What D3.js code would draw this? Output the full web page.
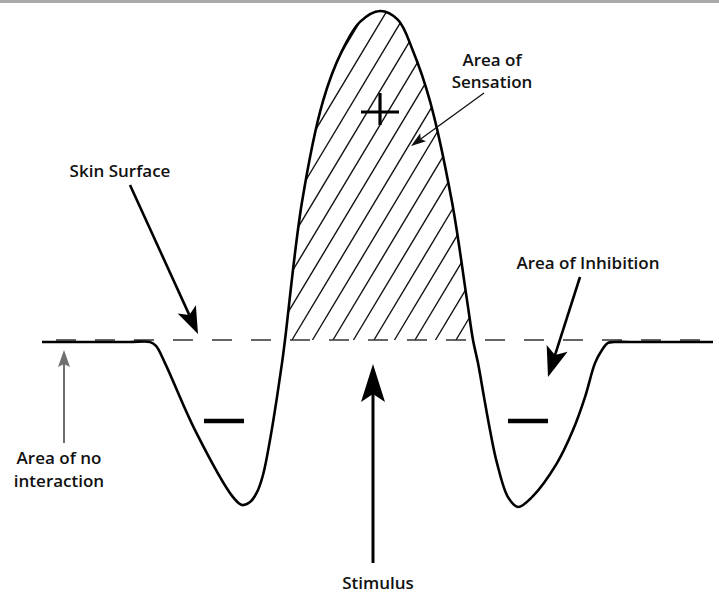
<!DOCTYPE html>
<html lang="en">

<head>
    <meta charset="UTF-8">
    <title>Skin Surface - Sensation and Inhibition</title>
    <script src="https://d3js.org/d3.v7.min.js"></script>
    <style>
        body {
            margin: 0;
            background: #fff;
        }

        .label {
            font-family: "Open Sans", sans-serif;
            font-weight: 600;
            font-size: 17px;
            fill: #111;
        }
    </style>
</head>

<body>
    <svg id="chart"></svg>

    <script>
        const width = 719;
        const height = 595;

        // position along the skin (0 = stimulus) and response (+ sensation, - inhibition)
        const positions = [-336, -288, -248, -228, -222, -213, -183, -145, -136, -128,
            -121, -115, -108, -101, -96, -93,
            -76, -55, -36, -18, 2, 20, 35, 52, 74, 89, 95,
            100, 106, 112, 119, 130, 140, 154, 179, 195, 207, 217, 224, 230, 236,
            252, 292, 335];
        const response = [0, 0, 0, 0, -1.2, -6.4, -26.7, -47, -49.4, -48.5,
            -45.5, -40.3, -29.7, -16.7, -6.4, 0.6,
            42.4, 73, 88.2, 97, 100.3, 97.6, 88.2, 73, 42.4, 12.7, 0.6,
            -6.4, -16.7, -26.7, -36.7, -47, -50, -47, -36.7, -26.7, -16.7, -6.4, -2.4, -0.3, 0,
            0, 0, 0];

        const points = positions.map((p, i) => ({ x: p, y: response[i] }));

        const svg = d3.select('#chart')
            .attr('width', width)
            .attr('height', height);

        const x = d3.scaleLinear().domain([-336, 335]).range([42, 713]);
        const y = d3.scaleLinear().domain([-50, 100]).range([507, 12]);

        // grey rule along the top
        svg.append('rect')
            .attr('x', 0).attr('y', 0)
            .attr('width', width).attr('height', 3)
            .attr('fill', '#a9a9a9');

        const curve = d3.curveCatmullRom.alpha(0.5);

        // clip: inside curve and above skin surface
        const area = d3.area()
            .x(d => x(d.x))
            .y0(y(0))
            .y1(d => y(d.y))
            .curve(curve);

        const defs = svg.append('defs');
        defs.append('clipPath').attr('id', 'aboveSkin')
            .append('rect')
            .attr('x', 0).attr('y', 0)
            .attr('width', width).attr('height', y(0) - 1);
        defs.append('clipPath').attr('id', 'inCurve')
            .append('path')
            .attr('d', area(points));

        // hatching of the area of sensation
        const slope = 0.6;
        const hatchX = d3.range(292 - 20.5 * 12, 480, 20.5);
        svg.append('g')
            .attr('clip-path', 'url(#aboveSkin)')
            .append('g')
            .attr('clip-path', 'url(#inCurve)')
            .selectAll('line')
            .data(hatchX)
            .enter().append('line')
            .attr('x1', d => d)
            .attr('y1', y(0) - 2)
            .attr('x2', d => d + slope * 400)
            .attr('y2', y(0) - 2 - 400)
            .attr('stroke', '#111')
            .attr('stroke-width', 1.4);

        // skin surface (dashed)
        svg.append('line')
            .attr('x1', x(-336)).attr('x2', x(335))
            .attr('y1', y(0) - 2).attr('y2', y(0) - 2)
            .attr('stroke', '#333')
            .attr('stroke-width', 1.3)
            .attr('stroke-dasharray', '20 19')
            .attr('stroke-dashoffset', 25);

        // response curve
        const line = d3.line()
            .x(d => x(d.x))
            .y(d => y(d.y))
            .curve(curve);

        svg.append('path')
            .datum(points)
            .attr('d', line)
            .attr('fill', 'none')
            .attr('stroke', '#000')
            .attr('stroke-width', 2.6)
            .attr('stroke-linejoin', 'round');

        // plus and minus signs
        const signs = [
            { cx: 380, cy: 112, plus: true },
            { cx: 224, cy: 421, plus: false },
            { cx: 528, cy: 421, plus: false }
        ];
        signs.forEach(s => {
            if (s.plus) {
                svg.append('line')
                    .attr('x1', s.cx - 19).attr('x2', s.cx + 19)
                    .attr('y1', s.cy).attr('y2', s.cy)
                    .attr('stroke', '#000').attr('stroke-width', 3.2);
                svg.append('line')
                    .attr('x1', s.cx).attr('x2', s.cx)
                    .attr('y1', s.cy - 19).attr('y2', s.cy + 13)
                    .attr('stroke', '#000').attr('stroke-width', 3.2);
            } else {
                svg.append('line')
                    .attr('x1', s.cx - 20).attr('x2', s.cx + 20)
                    .attr('y1', s.cy).attr('y2', s.cy)
                    .attr('stroke', '#000').attr('stroke-width', 4.5);
            }
        });

        // arrows
        const arrows = [
            { x1: 130, y1: 185, x2: 198, y2: 334, w: 2.6, L: 27, W: 10, n: 6, color: '#000' },
            { x1: 580, y1: 277, x2: 548, y2: 377, w: 2.6, L: 30, W: 11, n: 7, color: '#000' },
            { x1: 484, y1: 93, x2: 411, y2: 146, w: 1.3, L: 15, W: 5, n: 3, color: '#111' },
            { x1: 373, y1: 563, x2: 373, y2: 364, w: 3, L: 38, W: 12, n: 8, color: '#000' },
            { x1: 64, y1: 443, x2: 64, y2: 350, w: 2, L: 17, W: 6, n: 3, color: '#6e6e6e' }
        ];

        arrows.forEach(a => {
            const dx = a.x2 - a.x1, dy = a.y2 - a.y1;
            const len = Math.hypot(dx, dy);
            const ux = dx / len, uy = dy / len;
            const px = -uy, py = ux;
            const bx = a.x2 - ux * a.L, by = a.y2 - uy * a.L;

            svg.append('line')
                .attr('x1', a.x1).attr('y1', a.y1)
                .attr('x2', a.x2 - ux * (a.L - a.n)).attr('y2', a.y2 - uy * (a.L - a.n))
                .attr('stroke', a.color)
                .attr('stroke-width', a.w);

            const head = d3.path();
            head.moveTo(a.x2, a.y2);
            head.lineTo(bx + px * a.W, by + py * a.W);
            head.lineTo(a.x2 - ux * (a.L - a.n), a.y2 - uy * (a.L - a.n));
            head.lineTo(bx - px * a.W, by - py * a.W);
            head.closePath();
            svg.append('path')
                .attr('d', head.toString())
                .attr('fill', a.color);
        });

        // labels
        const labels = [
            { text: 'Skin Surface', x: 120, y: 177 },
            { text: 'Area of', x: 492, y: 66 },
            { text: 'Sensation', x: 492, y: 88 },
            { text: 'Area of Inhibition', x: 588, y: 269 },
            { text: 'Area of no', x: 59, y: 464 },
            { text: 'interaction', x: 59, y: 487 },
            { text: 'Stimulus', x: 378, y: 589 }
        ];

        svg.selectAll('.label')
            .data(labels)
            .enter().append('text')
            .attr('class', 'label')
            .attr('x', d => d.x)
            .attr('y', d => d.y)
            .attr('text-anchor', 'middle')
            .text(d => d.text);
    </script>

</body>

</html>
